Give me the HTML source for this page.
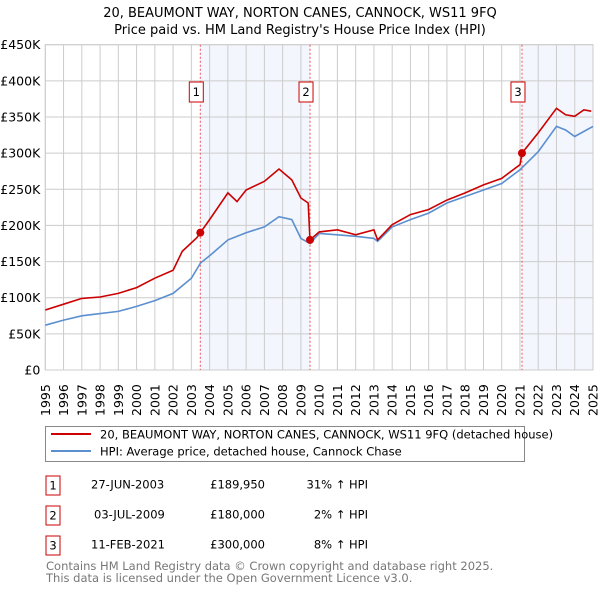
<!DOCTYPE html>
<html><head><meta charset="utf-8"><style>
body{margin:0;background:#fff;font-family:"Liberation Sans","DejaVu Sans",sans-serif;}
svg text{font-family:"DejaVu Sans","Liberation Sans",sans-serif;}
</style></head><body>
<svg id="c" width="600" height="590" xmlns="http://www.w3.org/2000/svg">
<text x="300" y="17" text-anchor="middle" font-size="13">20, BEAUMONT WAY, NORTON CANES, CANNOCK, WS11 9FQ</text>
<text x="300" y="34" text-anchor="middle" font-size="13">Price paid vs. HM Land Registry's House Price Index (HPI)</text>
<g id="plot"></g>
<g>
<rect x="45.5" y="426.5" width="479" height="35" fill="#fff" stroke="#888"/>
<line x1="51" y1="434" x2="91" y2="434" stroke="#cc0000" stroke-width="2"/>
<text x="100" y="438.5" font-size="11.5">20, BEAUMONT WAY, NORTON CANES, CANNOCK, WS11 9FQ (detached house)</text>
<line x1="51" y1="451" x2="91" y2="451" stroke="#5b8fd0" stroke-width="2"/>
<text x="100" y="455.5" font-size="11.5">HPI: Average price, detached house, Cannock Chase</text>
</g>
<g font-size="11.5">
<rect x="46" y="476" width="14" height="19" fill="#fff" stroke="#cc0000"/><text x="53" y="489.5" text-anchor="middle">1</text>
<text x="91" y="488.5">27-JUN-2003</text><text x="265" y="488.5" text-anchor="end">£189,950</text><text x="368" y="488.5" text-anchor="end">31% ↑ HPI</text>
<rect x="46" y="506" width="14" height="19" fill="#fff" stroke="#cc0000"/><text x="53" y="519.5" text-anchor="middle">2</text>
<text x="94" y="518.5">03-JUL-2009</text><text x="265" y="518.5" text-anchor="end">£180,000</text><text x="368" y="518.5" text-anchor="end">2% ↑ HPI</text>
<rect x="46" y="536" width="14" height="19" fill="#fff" stroke="#cc0000"/><text x="53" y="549.5" text-anchor="middle">3</text>
<text x="91" y="548.5">11-FEB-2021</text><text x="265" y="548.5" text-anchor="end">£300,000</text><text x="368" y="548.5" text-anchor="end">8% ↑ HPI</text>
</g>
<text x="46" y="570" font-size="11.5" fill="#777">Contains HM Land Registry data © Crown copyright and database right 2025.</text>
<text x="46" y="582" font-size="11.5" fill="#777">This data is licensed under the Open Government Licence v3.0.</text>
</svg>
<script>
const hpiYears=[1995,1996,1997,1998,1999,2000,2001,2002,2003,2003.5,2004,2005,2006,2007,2007.8,2008.5,2009,2009.5,2010,2011,2012,2013,2013.2,2014,2015,2016,2017,2018,2019,2020,2021,2022,2023,2023.5,2024,2025];
const hpiValues=[62,69,75,78,81,88,96,106,127,148,158,180,190,198,212,208,182,175,189,187,185,182,178,198,208,217,231,240,249,258,277,302,337,332,323,337];
const propYears=[1995,1996,1997,1998,1999,2000,2001,2002,2002.5,2003.3,2003.49,2004,2005,2005.5,2006,2007,2007.8,2008.5,2009,2009.4,2009.5,2010,2011,2012,2013,2013.2,2014,2015,2016,2017,2018,2019,2020,2021.0,2021.11,2022,2023,2023.5,2024,2024.5,2024.9];
const propValues=[83,91,99,101,106,114,127,138,164,183,190,208,245,233,249,261,278,263,238,231,180,191,194,187,194,180,201,215,222,235,245,256,265,284,300,328,362,353,351,360,358];
const saleYears=[2003.49,2009.5,2021.11];
const saleValues=[189.95,180,300];
const saleLabels=["1","2","3"];
const yTicks=[0,50,100,150,200,250,300,350,400,450];
const xTicks=[1995,1996,1997,1998,1999,2000,2001,2002,2003,2004,2005,2006,2007,2008,2009,2010,2011,2012,2013,2014,2015,2016,2017,2018,2019,2020,2021,2022,2023,2024,2025];
const X0=45.3,X1=593,Y0=370,Y1=44.7;
const sx=y=>X0+(y-1995)/30*(X1-X0);
const sy=v=>Y0-v/450*(Y0-Y1);
const NS="http://www.w3.org/2000/svg";
const g=document.getElementById('plot');
function mk(t,a){const e=document.createElementNS(NS,t);for(const k in a)e.setAttribute(k,a[k]);g.appendChild(e);return e;}
let r=mk('rect',{x:sx(saleYears[0]),y:Y1,width:sx(saleYears[1])-sx(saleYears[0]),height:Y0-Y1,fill:'#f3f6fd'});


r=mk('rect',{x:sx(saleYears[2]),y:Y1,width:X1-sx(saleYears[2]),height:Y0-Y1,fill:'#f3f6fd'});


yTicks.forEach(v=>{
 const l=mk('line',{x1:X0,x2:X1,y1:sy(v),y2:sy(v),stroke:'#ccc'});
 
 
 const t=mk('text',{x:X0-5,y:sy(v)+4.5,'text-anchor':'end','font-size':'12.5'});
 t.textContent=v===0?'£0':'£'+v+'K';
 
 
});
xTicks.forEach(y=>{
 const l=mk('line',{x1:sx(y),x2:sx(y),y1:Y1,y2:Y0,stroke:'#ccc'});
 
 
 const t=mk('text',{transform:`translate(${sx(y)+4.5},${Y0+46}) rotate(-90)`,'font-size':'12.5'});
 t.textContent=y;
 
 
});
const b=mk('rect',{x:X0,y:Y1,width:X1-X0,height:Y0-Y1,fill:'none',stroke:'#ccc'});


saleYears.forEach((y,i)=>{
 const l=mk('line',{x1:sx(y),x2:sx(y),y1:Y1,y2:Y0,stroke:'#e55','stroke-dasharray':'2,2'});
 
 
});
const pts=(xs,vs)=>xs.map((x,i)=>sx(x).toFixed(1)+','+sy(vs[i]).toFixed(1)).join(' ');
const h=mk('polyline',{points:pts(hpiYears,hpiValues),fill:'none',stroke:'#5b8fd0','stroke-width':1.6});


const p=mk('polyline',{points:pts(propYears,propValues),fill:'none',stroke:'#cc0000','stroke-width':1.6});


saleYears.forEach((y,i)=>{
 const c=mk('circle',{cx:sx(y),cy:sy(saleValues[i]),r:4,fill:'#cc0000'});
 
 
 const bx=mk('rect',{x:sx(y)-11,y:82,width:14,height:20,fill:'#fff',stroke:'#cc0000'});
 
 
 const t=mk('text',{x:sx(y)-4,y:96,'text-anchor':'middle','font-size':'11.5'});
 t.textContent=saleLabels[i];
 
 
});
</script>
</body></html>
